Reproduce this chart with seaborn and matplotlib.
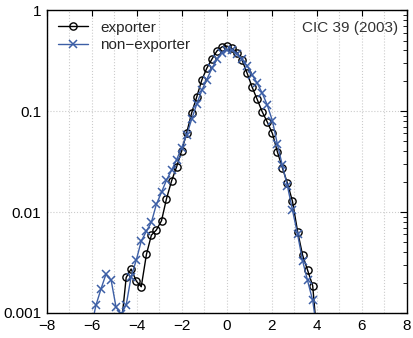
import numpy as np
import pandas as pd
import matplotlib
matplotlib.use("Agg")
import matplotlib.pyplot as plt
import seaborn as sns
from matplotlib.ticker import FixedLocator, LogLocator, NullFormatter

# bins (standardised growth rate) and densities
exp_x = [-4.70, -4.48, -4.26, -4.03, -3.81, -3.58, -3.36, -3.14, -2.91, -2.69,
         -2.46, -2.24, -2.02, -1.79, -1.57, -1.34, -1.12, -0.90, -0.67, -0.45,
         -0.22, 0.00, 0.22, 0.45, 0.67, 0.90, 1.12, 1.34, 1.57, 1.79,
         2.02, 2.24, 2.46, 2.69, 2.91, 3.14, 3.36, 3.58, 3.81, 4.03]
exp_y = [0.00075, 0.00225, 0.00273, 0.00207, 0.00182, 0.00381, 0.0059, 0.00664, 0.0082, 0.0135,
         0.0204, 0.028, 0.040, 0.061, 0.096, 0.139, 0.203, 0.265, 0.327, 0.393,
         0.433, 0.44, 0.417, 0.38, 0.32, 0.236, 0.172, 0.131, 0.098, 0.078,
         0.060, 0.0395, 0.0275, 0.0192, 0.0128, 0.0064, 0.00375, 0.00267, 0.00186, 0.0005]

non_x = [-6.05, -5.82, -5.60, -5.38, -5.15, -4.93, -4.70, -4.48, -4.26, -4.03,
         -3.81, -3.58, -3.36, -3.14, -2.91, -2.69, -2.46, -2.24, -2.02, -1.79,
         -1.57, -1.34, -1.12, -0.90, -0.67, -0.45, -0.22, 0.00, 0.22, 0.45,
         0.67, 0.90, 1.12, 1.34, 1.57, 1.79, 2.02, 2.24, 2.46, 2.69,
         2.91, 3.14, 3.36, 3.58, 3.81, 4.03]
non_y = [0.0007, 0.0012, 0.00173, 0.00242, 0.00212, 0.00114, 0.00098, 0.0012, 0.00229, 0.00335,
         0.00516, 0.00646, 0.0079, 0.0119, 0.0157, 0.0207, 0.026, 0.033, 0.043, 0.058,
         0.083, 0.118, 0.16, 0.205, 0.265, 0.325, 0.38, 0.405, 0.40, 0.37,
         0.325, 0.28, 0.228, 0.19, 0.15, 0.115, 0.08, 0.047, 0.029, 0.018,
         0.0105, 0.006, 0.0033, 0.0021, 0.00133, 0.0006]

x_ticks = [-8, -6, -4, -2, 0, 2, 4, 6, 8]
y_ticks = [0.001, 0.01, 0.1, 1]
y_labels = ["0.001", "0.01", "0.1", "1"]

sns.set_style("white")
plt.rcParams["font.family"] = ["Liberation Sans", "DejaVu Sans"]
plt.rcParams["axes.unicode_minus"] = True

fig = plt.figure(figsize=(4.14, 3.38), dpi=100)
ax = fig.add_axes([0.1135, 0.074, 0.8695, 0.896])

blue = "#3d5fa6"
sns.lineplot(x=exp_x, y=exp_y, ax=ax, color="black", lw=1.0, marker="o", ms=5.2,
             mfc="none", mec="black", mew=1.0, label="exporter", sort=False)
sns.lineplot(x=non_x, y=non_y, ax=ax, color=blue, lw=1.0, marker="x", ms=5.2,
             mec=blue, mew=1.1, label="non\u2212exporter", sort=False)

ax.set_yscale("log")
ax.set_xlim(-8, 8)
ax.set_ylim(0.001, 1)
ax.set_xticks(x_ticks)
ax.set_xticklabels([f"{t}".replace("-", "\u2212") for t in x_ticks])
ax.xaxis.set_minor_locator(FixedLocator(np.arange(-8, 9, 1)))
ax.set_yticks(y_ticks)
ax.set_yticklabels(y_labels)
ax.yaxis.set_minor_locator(LogLocator(base=10, subs=np.arange(2, 10)))
ax.yaxis.set_minor_formatter(NullFormatter())

ax.tick_params(which="both", direction="in", top=True, right=True, labelsize=11, colors="black")
ax.tick_params(axis="x", which="major", length=4, width=0.8, pad=4)
ax.tick_params(axis="x", which="minor", length=0)
ax.tick_params(axis="y", which="major", length=5, width=0.8, pad=4)
ax.tick_params(axis="y", which="minor", length=3, width=0.6)

ax.grid(True, axis="x", which="both", color="#cccccc", ls=":", lw=0.8)
ax.grid(True, axis="y", which="major", color="#cccccc", ls=":", lw=0.8)
for s in ax.spines.values():
    s.set_color("black")
    s.set_linewidth(1.0)

ax.set_xlabel("")
ax.set_ylabel("")
ax.legend(loc="upper left", frameon=False, fontsize=11, handlelength=2.0,
          borderaxespad=0.3, labelspacing=0.2, handletextpad=0.8)
ax.text(0.975, 0.965, "CIC 39 (2003)", transform=ax.transAxes, ha="right", va="top",
        fontsize=11, color="#333333")

fig.savefig("out.png", dpi=100)
